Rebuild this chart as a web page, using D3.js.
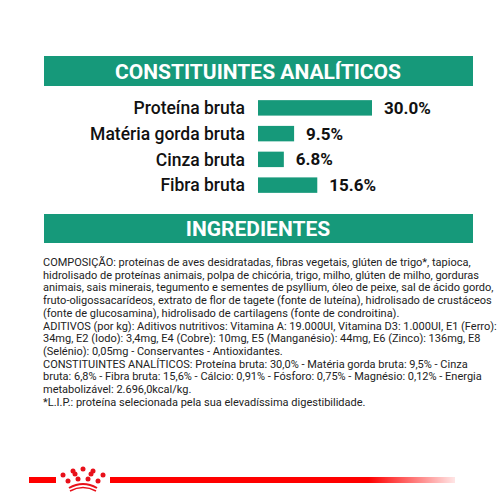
<!DOCTYPE html>
<html><head><meta charset="utf-8">
<script src="https://cdn.jsdelivr.net/npm/d3@7"></script>
<style>body{margin:0;background:#fff}</style></head>
<body><svg id="c" width="500" height="500"></svg>
<script>
const categories = ["Proteína bruta","Matéria gorda bruta","Cinza bruta","Fibra bruta"];
const values = [30.0, 9.5, 6.8, 15.6];
const valueLabels = ["30.0%","9.5%","6.8%","15.6%"];
const title1 = "CONSTITUINTES ANALÍTICOS";
const title2 = "INGREDIENTES";
const ingredientLines = [
"COMPOSIÇÃO: proteínas de aves desidratadas, fibras vegetais, glúten de trigo*, tapioca,",
"hidrolisado de proteínas animais, polpa de chicória, trigo, milho, glúten de milho, gorduras",
"animais, sais minerais, tegumento e sementes de psyllium, óleo de peixe, sal de ácido gordo,",
"fruto-oligossacarídeos, extrato de flor de tagete (fonte de luteína), hidrolisado de crustáceos",
"(fonte de glucosamina), hidrolisado de cartilagens (fonte de condroitina).",
"ADITIVOS (por kg): Aditivos nutritivos: Vitamina A: 19.000UI, Vitamina D3: 1.000UI, E1 (Ferro):",
"34mg, E2 (Iodo): 3,4mg, E4 (Cobre): 10mg, E5 (Manganésio): 44mg, E6 (Zinco): 136mg, E8",
"(Selénio): 0,05mg - Conservantes - Antioxidantes.",
"CONSTITUINTES ANALÍTICOS: Proteína bruta: 30,0% - Matéria gorda bruta: 9,5% - Cinza",
"bruta: 6,8% - Fibra bruta: 15,6% - Cálcio: 0,91% - Fósforo: 0,75% - Magnésio: 0,12% - Energia",
"metabolizável: 2.696,0kcal/kg.",
"*L.I.P.: proteína selecionada pela sua elevadíssima digestibilidade."
];
const green = "#16997a";
const svg = d3.select("#c");
svg.append("rect").attr("x",44).attr("y",56).attr("width",429).attr("height",30).attr("fill",green);
svg.append("text").attr("x",258).attr("y",79).attr("text-anchor","middle").attr("fill","#fff")
  .attr("font-family","Roboto").attr("font-weight","bold").attr("font-size",21).text(title1);
svg.append("rect").attr("x",44).attr("y",214).attr("width",429).attr("height",29).attr("fill",green);
svg.append("text").attr("x",258).attr("y",236).attr("text-anchor","middle").attr("fill","#fff")
  .attr("font-family","Roboto").attr("font-weight","bold").attr("font-size",21).text(title2);

const x = d3.scaleLinear().domain([0,30]).range([258,372]);
const y = d3.scaleBand().domain(categories).range([95,198]).paddingInner(0.4).paddingOuter(0.2);
svg.selectAll("rect.bar").data(values).join("rect").attr("class","bar")
  .attr("x",x(0)).attr("y",(d,i)=>y(categories[i])).attr("height",y.bandwidth())
  .attr("width",d=>x(d)-x(0)).attr("fill",green);
svg.selectAll("text.cat").data(categories).join("text").attr("class","cat")
  .attr("x",245).attr("y",d=>y(d)+y.bandwidth()/2).attr("dy","0.36em").attr("text-anchor","end")
  .attr("font-family","Roboto").attr("font-weight",500).attr("font-size",17.5).attr("fill","#111").text(d=>d);
svg.selectAll("text.val").data(values).join("text").attr("class","val")
  .attr("x",d=>x(d)+12).attr("y",(d,i)=>y(categories[i])+y.bandwidth()/2).attr("dy","0.36em")
  .attr("font-family","Roboto").attr("font-weight","bold").attr("font-size",17).attr("fill","#111")
  .text((d,i)=>valueLabels[i]);

svg.append("g").selectAll("text").data(ingredientLines).join("text")
  .attr("x",43).attr("y",(d,i)=>266+i*12.7)
  .attr("font-family","Liberation Sans Narrow, Roboto").attr("font-size",11).attr("fill","#222").text(d=>d);

// footer
const defs = svg.append("defs");
const lg = defs.append("linearGradient").attr("id","fade");
lg.append("stop").attr("offset","0.75").attr("stop-color","#f00").attr("stop-opacity",1);
lg.append("stop").attr("offset","1").attr("stop-color","#f00").attr("stop-opacity",0.1);
svg.append("rect").attr("x",29).attr("y",477).attr("width",27).attr("height",6).attr("fill","#f00");
svg.append("rect").attr("x",110).attr("y",477).attr("width",345).attr("height",6).attr("fill","url(#fade)");
const crown = svg.append("g").attr("fill","#e8101a");
[[63,475],[73,471],[83,469],[93,471],[103,475],[68,481],[78,479],[88,479],[98,481],[75,474],[91,474]].forEach(p=>
  crown.append("circle").attr("cx",p[0]).attr("cy",p[1]).attr("r",2.5));
crown.append("path").attr("d","M69,488 Q83,480 97,488").attr("fill","none").attr("stroke","#e8101a").attr("stroke-width",2);
crown.append("path").attr("d","M70,491 Q83,484 96,491").attr("fill","none").attr("stroke","#e8101a").attr("stroke-width",1.5);
</script></body></html>
